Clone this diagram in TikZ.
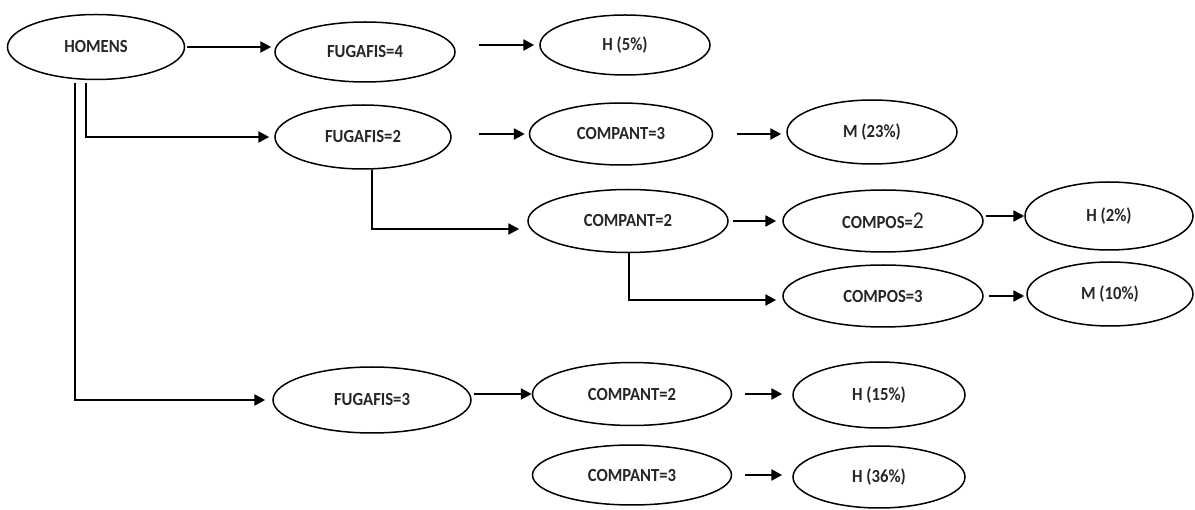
\documentclass[tikz,border=0pt]{standalone}
\usepackage{fontspec}
\setmainfont[FakeStretch=0.9]{Carlito}
\usetikzlibrary{arrows.meta,shapes.geometric}
\begin{document}
\begin{tikzpicture}[x=1pt,y=-1pt,
  oval/.style={ellipse,draw,line width=1.5pt,inner sep=0pt,text=black!85,font=\fontsize{18.5}{18.5}\selectfont\bfseries},
  arr/.style={line width=2.4pt,-{Triangle[length=11pt,width=11pt]}}]
\useasboundingbox (0,0) rectangle (1195,510);
\node[oval,minimum width=177pt,minimum height=65pt] (homens) at (96,47) {HOMENS};
\node[oval,minimum width=180pt,minimum height=60pt] (f4) at (365,52) {FUGAFIS=4};
\node[oval,minimum width=170pt,minimum height=60pt] (h5) at (625,45) {H (5\%)};
\node[oval,minimum width=176pt,minimum height=64pt] (f2) at (363,137) {FUGAFIS=2};
\node[oval,minimum width=183pt,minimum height=62pt] (c3a) at (621,134) {COMPANT=3};
\node[oval,minimum width=170pt,minimum height=64pt] (m23) at (872,132) {M (23\%)};
\node[oval,minimum width=200pt,minimum height=63pt] (c2a) at (628,221) {COMPANT=2};
\node[oval,minimum width=200pt,minimum height=62pt] (cp2) at (883,221) {COMPOS={\fontsize{24}{24}\selectfont\mdseries 2}};
\node[oval,minimum width=168pt,minimum height=68pt] (h2) at (1109,216) {H (2\%)};
\node[oval,minimum width=200pt,minimum height=62pt] (cp3) at (883,296) {COMPOS=3};
\node[oval,minimum width=166pt,minimum height=64pt] (m10) at (1110,294) {M (10\%)};
\node[oval,minimum width=198pt,minimum height=66pt] (f3) at (372,400) {FUGAFIS=3};
\node[oval,minimum width=199pt,minimum height=63pt] (c2b) at (632,394) {COMPANT=2};
\node[oval,minimum width=172pt,minimum height=66pt] (h15) at (879,395) {H (15\%)};
\node[oval,minimum width=199pt,minimum height=60pt] (c3b) at (632,475) {COMPANT=3};
\node[oval,minimum width=172pt,minimum height=62pt] (h36) at (879,477) {H (36\%)};
% straight arrows
\draw[arr,shorten <=2pt,shorten >=3pt] (homens.east) -- (homens.east -| f4.west);
\draw[arr,shorten <=23pt,shorten >=5pt] (h5.west -| f4.east) -- (h5.west);
\draw[arr,shorten <=27pt,shorten >=4pt] (c3a.west -| f2.east) -- (c3a.west);
\draw[arr,shorten <=24pt,shorten >=5pt] (c3a.east) -- (c3a.east -| m23.west);
\draw[arr,shorten <=4pt,shorten >=6pt] (c2a.east) -- (c2a.east -| cp2.west);
\draw[arr,shorten <=2pt,shorten >=0pt] (h2.west -| cp2.east) -- (h2.west);
\draw[arr,shorten <=5pt,shorten >=2pt] (cp3.east) -- (cp3.east -| m10.west);
\draw[arr,shorten <=2pt,shorten >=0pt] (c2b.west -| f3.east) -- (c2b.west);
\draw[arr,shorten <=13pt,shorten >=10pt] (c2b.east) -- (c2b.east -| h15.west);
\draw[arr,shorten <=13pt,shorten >=10pt] (c3b.east) -- (c3b.east -| h36.west);
% elbow arrows
\draw[arr] ([xshift=-10pt,yshift=-3pt]homens.south) |- ([xshift=-5pt]f2.west);
\draw[arr] ([xshift=-21pt,yshift=-3pt]homens.south) |- ([xshift=-7pt]f3.west);
\draw[arr] ([xshift=9pt]f2.south) |- ([xshift=-8pt,yshift=-8pt]c2a.west);
\draw[arr] ([xshift=1pt]c2a.south) |- ([xshift=-6pt,yshift=-4pt]cp3.west);
\end{tikzpicture}
\end{document}
